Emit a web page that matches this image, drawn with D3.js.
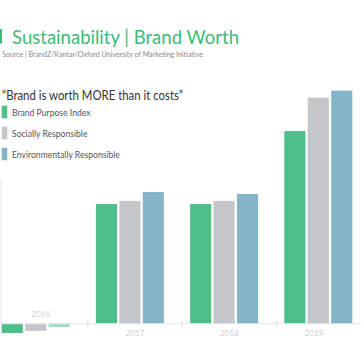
<!DOCTYPE html>
<html>
<head>
<meta charset="utf-8">
<script src="https://cdn.jsdelivr.net/npm/d3@7"></script>
<style>
  body { margin: 0; background: #fff; }
  svg { display: block; font-family: Lato, "Open Sans", sans-serif; }
</style>
</head>
<body>
<div id="chart"></div>
<script>
// chart data
const years = ["2016", "2017", "2018", "2019"];
const seriesNames = ["Brand Purpose Index", "Socially Responsible", "Environmentally Responsible"];
const brandPurpose = [-3.9, 50.0, 50.0, 80.5];
const sociallyResp = [-3.0, 51.3, 51.3, 94.5];
const environResp = [-1.4, 55.0, 54.2, 97.4];
const colors = ["#4fbf8a", "#c4c7ca", "#84b4c8"];

var width = 361, height = 341;

var svg = d3.select("#chart").append("svg")
    .attr("width", width)
    .attr("height", height);

// title
svg.append("rect")
    .attr("x", 0).attr("y", 29)
    .attr("width", 2).attr("height", 14.5)
    .attr("fill", "#3dba7e");
svg.append("text")
    .attr("x", 12).attr("y", 43.5)
    .attr("font-size", 19.5)
    .attr("textLength", 227)
    .attr("lengthAdjust", "spacingAndGlyphs")
    .attr("fill", "#3dba7e")
    .text("Sustainability | Brand Worth");
svg.append("text")
    .attr("x", 2).attr("y", 57)
    .attr("font-size", 7.3)
    .attr("textLength", 201)
    .attr("lengthAdjust", "spacingAndGlyphs")
    .attr("fill", "#8a8a8a")
    .text("Source | BrandZ/Kantar/Oxford University of Marketing Initiative");

svg.append("text")
    .attr("x", 2).attr("y", 100)
    .attr("font-size", 12.6)
    .attr("textLength", 181)
    .attr("lengthAdjust", "spacingAndGlyphs")
    .attr("fill", "#333")
    .text("\u201cBrand is worth MORE than it costs\u201d");

// legend
var legend = svg.append("g").selectAll("g")
    .data(seriesNames)
  .enter().append("g")
    .attr("transform", function(d, i) { return "translate(0," + (105.7 + i * 21) + ")"; });
legend.append("rect")
    .attr("x", 1.7).attr("width", 5.6).attr("height", 12.6)
    .attr("fill", function(d, i) { return colors[i]; });
legend.append("text")
    .attr("x", 12).attr("y", 10.5)
    .attr("font-size", 8.6)
    .attr("fill", "#555")
    .text(function(d) { return d; });

// scales
var x = d3.scaleBand().domain(years).range([-6.3, 370.5]);
var sub = d3.scaleBand().domain(d3.range(3)).range([0, 68]).paddingInner(0.1);
var y = d3.scaleLinear().domain([0, 100]).range([323.7, 84.4]);

var values = [brandPurpose, sociallyResp, environResp];

// left axis line
svg.append("line")
    .attr("x1", 1).attr("x2", 1)
    .attr("y1", 178).attr("y2", y(0))
    .attr("stroke", "#e6e6e6");

// bars
var groups = svg.append("g").selectAll("g")
    .data(years)
  .enter().append("g")
    .attr("transform", function(d) { return "translate(" + (x(d) + 8) + ",0)"; });

groups.selectAll("rect")
    .data(function(d, i) { return values.map(function(v, k) { return { k: k, v: v[i], year: d }; }); })
  .enter().append("rect")
    .attr("x", function(d) { return sub(d.k); })
    .attr("width", sub.bandwidth())
    .attr("y", function(d) { return Math.min(y(d.v), y(0)); })
    .attr("height", function(d) { return Math.abs(y(d.v) - y(0)); })
    .attr("fill", function(d) {
      // 2016 environmental bar is drawn in a pale mint
      if (d.year === "2016" && d.k === 2) return "#a3dcc3";
      return colors[d.k];
    });

// baseline + ticks
svg.append("line")
    .attr("x1", 0).attr("x2", width)
    .attr("y1", y(0)).attr("y2", y(0))
    .attr("stroke", "#e6e6e6");
svg.append("g").selectAll("line")
    .data(years.slice(1))
  .enter().append("line")
    .attr("x1", function(d) { return x(d); })
    .attr("x2", function(d) { return x(d); })
    .attr("y1", y(0) - 4).attr("y2", y(0) + 3.5)
    .attr("stroke", "#e0e0e0");

// year labels
svg.append("g").selectAll("text")
    .data(years)
  .enter().append("text")
    .attr("x", function(d) { return Math.min(x(d) + x.bandwidth() / 2, width - 47); })
    .attr("y", function(d, i) { return brandPurpose[i] < 0 ? y(0) - 7 : y(0) + 12.5; })
    .attr("text-anchor", "middle")
    .attr("font-size", 8.2)
    .attr("fill", "#cfcfcf")
    .text(function(d) { return d; });
</script>
</body>
</html>
